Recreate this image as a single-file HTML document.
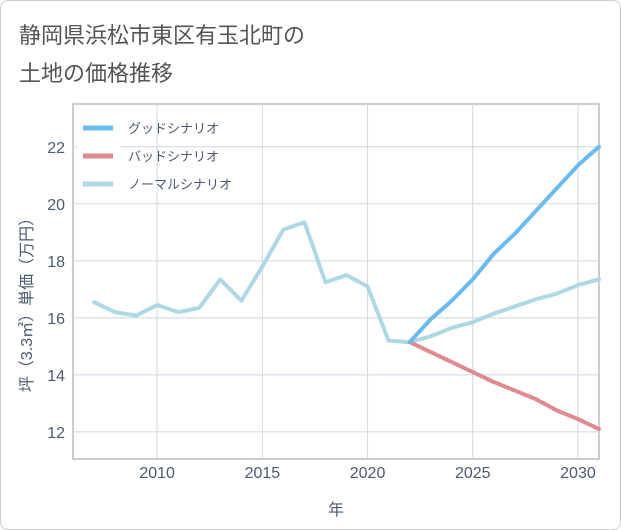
<!DOCTYPE html>
<html><head><meta charset="utf-8"><style>
body{margin:0;background:#fff;}
#wrap{position:relative;width:619px;height:528px;border:1px solid #ccc;border-radius:8px;overflow:hidden;background:#fff;}
.t{position:absolute;left:18px;font:22px "Liberation Sans","Noto Sans CJK JP",sans-serif;color:#555;}
svg text{font-family:"Liberation Sans","Noto Sans CJK JP",sans-serif;}
</style></head><body>
<div id="wrap">
<div class="t" style="top:17px">静岡県浜松市東区有玉北町の</div>
<div class="t" style="top:55px">土地の価格推移</div>
<svg id="svg" width="621" height="530" style="position:absolute;left:0;top:0"></svg>
</div>
<script>
const years=[2007,2008,2009,2010,2011,2012,2013,2014,2015,2016,2017,2018,2019,2020,2021,2022,2023,2024,2025,2026,2027,2028,2029,2030,2031];
const normal=[16.55,16.2,16.08,16.45,16.2,16.35,17.35,16.6,17.8,19.1,19.35,17.25,17.5,17.1,15.2,15.15,15.35,15.65,15.85,16.15,16.4,16.65,16.85,17.15,17.35];
const futureYears=[2022,2023,2024,2025,2026,2027,2028,2029,2030,2031];
const good=[15.15,15.95,16.6,17.35,18.25,18.95,19.75,20.55,21.35,22.0];
const bad=[15.15,14.8,14.45,14.1,13.75,13.45,13.15,12.75,12.45,12.1];
const xTicks=[2010,2015,2020,2025,2030];
const yTicks=[12,14,16,18,20,22];
const L=72,R=598,T=103,B=458,x0=2006,x1=2031,y0=11.05,y1=23.5;
const X=v=>L+(v-x0)/(x1-x0)*(R-L);
const Y=v=>B-(v-y0)/(y1-y0)*(B-T);
const s=document.getElementById('svg');const NS='http://www.w3.org/2000/svg';
function mk(tag,a,name,parent){const e=document.createElementNS(NS,tag);for(const k in a)e.setAttribute(k,a[k]);


(parent||s).appendChild(e);return e;}
mk('rect',{x:L,y:T,width:R-L,height:B-T,fill:'none',stroke:'#999','stroke-width':1},'plot-frame');
xTicks.forEach(v=>{mk('line',{x1:X(v),x2:X(v),y1:T,y2:B,stroke:'#cfd8e3'},'x-gridline');
const t=mk('text',{x:X(v),y:477,'text-anchor':'middle','font-size':16,fill:'#4a5a70'},'x-tick-label');t.textContent=v;});
yTicks.forEach(v=>{mk('line',{x1:L,x2:R,y1:Y(v),y2:Y(v),stroke:'#cfd8e3'},'y-gridline');
const t=mk('text',{x:64,y:Y(v)+6,'text-anchor':'end','font-size':16,fill:'#4a5a70'},'y-tick-label');t.textContent=v;});
const xt=mk('text',{x:335,y:514,'text-anchor':'middle','font-size':16,fill:'#4a5a70'},'x-axis-title');xt.textContent='年';
const yt=mk('text',{x:0,y:0,'text-anchor':'middle','font-size':16,fill:'#4a5a70',transform:'translate(31,300) rotate(-90)'},'y-axis-title');yt.textContent='坪（3.3㎡）単価（万円）';
function line(xs,ys,c,name){mk('polyline',{points:xs.map((v,i)=>X(v)+','+Y(ys[i])).join(' '),fill:'none',stroke:c,'stroke-width':4,'stroke-linejoin':'round','stroke-linecap':'round'},name);}
line(years,normal,'#add8e6','normal-scenario-line');
line(futureYears,bad,'#e08a90','bad-scenario-line');
line(futureYears,good,'#6bbaf0','good-scenario-line');
mk('rect',{x:76,y:112,width:44,height:85,fill:'#fff'},'legend-bg');
[['グッドシナリオ','#6bbaf0'],['バッドシナリオ','#e08a90'],['ノーマルシナリオ','#add8e6']].forEach((d,i)=>{const y=127+i*28;
mk('line',{x1:82,x2:112,y1:y,y2:y,stroke:d[1],'stroke-width':5},'legend-swatch');
const t=mk('text',{x:127,y:y+5,'font-size':13,fill:'#4a5a70'},'legend-entry');t.textContent=d[0];});
</script>
</body></html>
